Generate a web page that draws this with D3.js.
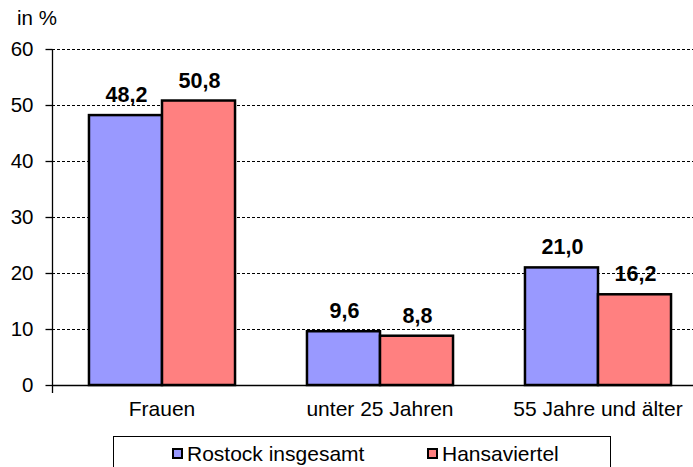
<!DOCTYPE html>
<html>
<head>
<meta charset="utf-8">
<script src="https://cdn.jsdelivr.net/npm/d3@7"></script>
<style>
  body { margin: 0; background: #fff; }
  svg { font-family: "Liberation Sans", Arial, sans-serif; }
</style>
</head>
<body>
<svg width="693" height="467"></svg>
<script>
var categories = ["Frauen", "unter 25 Jahren", "55 Jahre und älter"];
var series = ["Rostock insgesamt", "Hansaviertel"];
var rostock = [48.2, 9.6, 21.0];
var hansa = [50.8, 8.8, 16.2];
var yTicks = [0, 10, 20, 30, 40, 50, 60];
var colors = ["#9999ff", "#ff8080"];

var svg = d3.select("svg");
var values = [rostock, hansa];

// plot runs past the right edge of the picture, like in the original
var x0 = d3.scaleBand().domain(categories).range([53, 707]).paddingInner(0.33).paddingOuter(0.165);
var x1 = d3.scaleBand().domain(series).range([0, x0.bandwidth()]);
var y = d3.scaleLinear().domain([0, 60]).range([385, 49]);

// gridlines
svg.append("g")
    .selectAll("line")
    .data(yTicks.filter(function (d) { return d > 0; }))
    .enter().append("line")
    .attr("x1", 52).attr("x2", 693)
    .attr("y1", function (d) { return y(d) + 0.5; })
    .attr("y2", function (d) { return y(d) + 0.5; })
    .attr("stroke", "#000")
    .attr("stroke-width", 1)
    .attr("stroke-dasharray", "3,2");

// y axis
var yAxis = svg.append("g")
    .attr("transform", "translate(52.5,0)")
    .call(d3.axisLeft(y).tickValues(yTicks).tickSize(7).tickPadding(12).tickFormat(d3.format("d")));
yAxis.select(".domain").attr("d", "M0," + y(60) + "V" + (y(0) + 8)).attr("stroke-width", 1.3);
yAxis.selectAll(".tick line").attr("stroke-width", 1.3);
yAxis.selectAll(".tick text").attr("font-size", 20.5).attr("fill", "#000")
    .attr("font-family", "Liberation Sans, Arial, sans-serif");

// bars
var groups = svg.append("g")
    .selectAll("g")
    .data(categories)
    .enter().append("g")
    .attr("transform", function (d) { return "translate(" + x0(d) + ",0)"; });

series.forEach(function (s, si) {
    groups.append("rect")
        .attr("x", x1(s))
        .attr("y", function (d, i) { return y(values[si][i]); })
        .attr("width", x1.bandwidth())
        .attr("height", function (d, i) { return y(0) - y(values[si][i]); })
        .attr("fill", colors[si])
        .attr("stroke", "#000")
        .attr("stroke-width", 2.5);

    groups.append("text")
        .attr("x", x1(s) + x1.bandwidth() / 2 + 1)
        .attr("y", function (d, i) { return y(values[si][i]) - 13; })
        .attr("text-anchor", "middle")
        .attr("font-size", 21.5)
        .attr("font-weight", "bold")
        .text(function (d, i) { return values[si][i].toFixed(1).replace(".", ","); });
});

// x axis
svg.append("line")
    .attr("x1", 52).attr("x2", 693)
    .attr("y1", y(0) + 0.5).attr("y2", y(0) + 0.5)
    .attr("stroke", "#000").attr("stroke-width", 1.3);

svg.append("g")
    .selectAll("text")
    .data(categories)
    .enter().append("text")
    .attr("x", function (d) { return x0(d) + x0.bandwidth() / 2; })
    .attr("y", 416)
    .attr("text-anchor", "middle")
    .attr("font-size", 21)
    .text(function (d) { return d; });

// unit label
svg.append("text")
    .attr("x", 17).attr("y", 25)
    .attr("font-size", 20.5)
    .text("in %");

// legend
var legend = svg.append("g");
legend.append("rect")
    .attr("x", 113.5).attr("y", 436.5)
    .attr("width", 497).attr("height", 40)
    .attr("fill", "#fff").attr("stroke", "#000").attr("stroke-width", 1);

var legendX = [173, 428];
series.forEach(function (s, i) {
    legend.append("rect")
        .attr("x", legendX[i]).attr("y", 449)
        .attr("width", 9).attr("height", 9)
        .attr("fill", colors[i]).attr("stroke", "#000").attr("stroke-width", 2);
    legend.append("text")
        .attr("x", legendX[i] + 14).attr("y", 461)
        .attr("font-size", 21)
        .text(s);
});
</script>
</body>
</html>
